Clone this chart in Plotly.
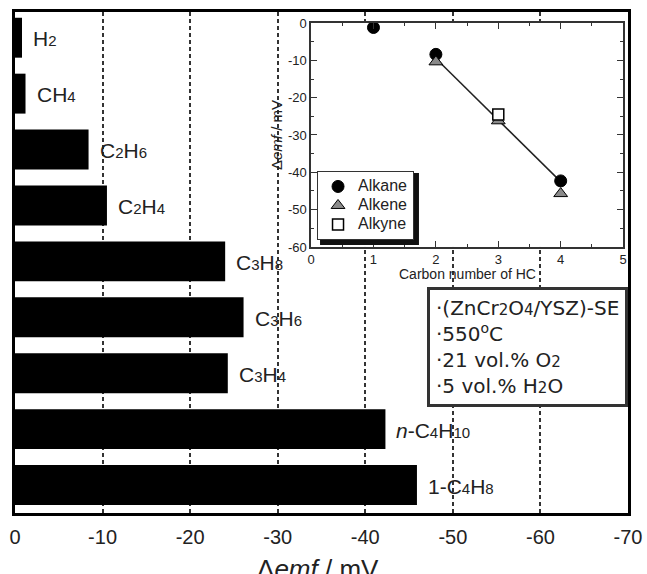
import plotly.graph_objects as go

FONT = "Liberation Sans, Arial, sans-serif"
WIDE = "DejaVu Sans, sans-serif"


def s(t, px):
    return f'<span style="font-size:{px}px">{t}</span>'


# ---- main bar data ----
SUB = 15
gases = ["H" + s("2", SUB), "CH" + s("4", SUB), "C" + s("2", SUB) + "H" + s("6", SUB),
         "C" + s("2", SUB) + "H" + s("4", SUB), "C" + s("3", SUB) + "H" + s("8", SUB),
         "C" + s("3", SUB) + "H" + s("6", SUB), "C" + s("3", SUB) + "H" + s("4", SUB),
         "<i>n</i>-C" + s("4", SUB) + "H" + s("10", SUB), "1-C" + s("4", SUB) + "H" + s("8", SUB)]
demf = [-0.8, -1.2, -8.4, -10.5, -24.0, -26.1, -24.3, -42.3, -45.9]
positions = list(range(len(gases)))

x_tickvals = [0, -10, -20, -30, -40, -50, -60, -70]
x_ticktext = ["0", "-10", "-20", "-30", "-40", "-50", "-60", "-70"]

# ---- inset data ----
alkane_n = [1, 2, 4]
alkane_v = [-1.2, -8.4, -42.3]
alkene_n = [2, 3, 4]
alkene_v = [-10.4, -26.2, -45.7]
alkyne_n = [3]
alkyne_v = [-24.5]
fit_n = [2, 4]
fit_v = [-9.5, -42.5]

y2_tickvals = [0, -10, -20, -30, -40, -50, -60]
y2_ticktext = ["0", "-10", "-20", "-30", "-40", "-50", "-60"]
x2_tickvals = [0, 1, 2, 3, 4, 5]

fig = go.Figure()

fig.add_trace(go.Bar(
    x=demf, y=positions, orientation="h",
    marker=dict(color="black", line=dict(color="black", width=0)),
    width=0.714, showlegend=False, hoverinfo="x",
    xaxis="x", yaxis="y",
))

LEG = 16
fig.add_trace(go.Scatter(x=fit_n, y=fit_v, mode="lines",
                         line=dict(color="#222", width=1.5),
                         showlegend=False, xaxis="x2", yaxis="y2"))
fig.add_trace(go.Scatter(x=alkane_n, y=alkane_v, mode="markers", name=s("Alkane", LEG),
                         marker=dict(symbol="circle", size=12, color="black",
                                     line=dict(color="black", width=1)),
                         xaxis="x2", yaxis="y2"))
fig.add_trace(go.Scatter(x=alkene_n, y=alkene_v, mode="markers", name=s("Alkene", LEG),
                         marker=dict(symbol="triangle-up", size=12, color="#8a8a8a",
                                     line=dict(color="black", width=1)),
                         xaxis="x2", yaxis="y2"))
fig.add_trace(go.Scatter(x=alkyne_n, y=alkyne_v, mode="markers", name=s("Alkyne", LEG),
                         marker=dict(symbol="square", size=11, color="white",
                                     line=dict(color="black", width=1.5)),
                         xaxis="x2", yaxis="y2"))

annotations = []
for g, v, p in zip(gases, demf, positions):
    annotations.append(dict(
        x=v, y=p, xref="x", yref="y", text=g, showarrow=False,
        xanchor="left", yanchor="middle", xshift=9, yshift=-1,
        font=dict(family=FONT, size=21, color="#222"),
    ))

BS = 15
annotations.append(dict(
    x=1.0, y=0.451, xref="paper", yref="paper", xanchor="right", yanchor="top",
    text=("·(ZnCr" + s("2", BS) + "O" + s("4", BS) + "/YSZ)-SE<br>·550<sup>o</sup>C<br>"
          "·21 vol.% O" + s("2", BS) + "<br>·5 vol.% H" + s("2", BS) + "O"),
    align="left", showarrow=False, bgcolor="white", bordercolor="#333", borderwidth=3,
    borderpad=6, font=dict(family=WIDE, size=20, color="#222"),
))

# inset x-axis title
annotations.append(dict(
    x=(0.483 + 0.992) / 2, y=0.531, xref="paper", yref="paper",
    xanchor="center", yanchor="top", yshift=-17,
    text="Carbon number of HC", showarrow=False,
    font=dict(family=FONT, size=14, color="#222"),
))

# main x-axis title (partly below the bottom edge, as in the original)
annotations.append(dict(
    x=0.494, y=-0.078, xref="paper", yref="paper",
    xanchor="center", yanchor="top",
    text="Δ<i>emf</i> / mV", showarrow=False,
    font=dict(family=FONT, size=26, color="#222"),
))

fig.update_layout(
    width=647, height=574,
    margin=dict(l=15, r=19, t=12, b=61, autoexpand=False),
    paper_bgcolor="white", plot_bgcolor="white",
    font=dict(family=FONT, color="#222"),
    xaxis=dict(
        domain=[0, 1], range=[0, -70], tickmode="array", automargin=False,
        tickvals=x_tickvals, ticktext=x_ticktext,
        showline=True, linecolor="black", linewidth=3, mirror=True,
        ticks="", showgrid=True, gridcolor="#333", gridwidth=1.5,
        griddash="4px,3px", zeroline=False, ticklabelstandoff=4,
        tickfont=dict(family=FONT, size=20, color="#222"),
    ),
    yaxis=dict(
        domain=[0, 1], range=[8.5, -0.46], showticklabels=False, ticks="",
        showgrid=False, zeroline=False, automargin=False,
        showline=True, linecolor="black", linewidth=3, mirror=True,
    ),
    xaxis2=dict(
        domain=[0.483, 0.992], range=[0, 5], anchor="y2", automargin=False,
        tickmode="array", tickvals=x2_tickvals,
        ticks="inside", ticklen=6, tickwidth=1.2, tickcolor="#333",
        minor=dict(dtick=0.5, ticks="inside", ticklen=3, tickwidth=1, tickcolor="#333"),
        showline=True, linecolor="#333", linewidth=1.5, mirror="ticks",
        showgrid=False, zeroline=False,
        tickfont=dict(family=FONT, size=13, color="#222"),
    ),
    yaxis2=dict(
        domain=[0.531, 0.978], range=[-60, 0], anchor="x2", automargin=False,
        tickmode="array", tickvals=y2_tickvals, ticktext=y2_ticktext,
        ticks="inside", ticklen=6, tickwidth=1.2, tickcolor="#333",
        minor=dict(dtick=5, ticks="inside", ticklen=3, tickwidth=1, tickcolor="#333"),
        showline=True, linecolor="#333", linewidth=1.5, mirror="ticks",
        showgrid=False, zeroline=False,
        tickfont=dict(family=FONT, size=13, color="#222"),
        title=dict(text="Δ<i>emf</i> / mV", font=dict(family=FONT, size=15, color="#222"),
                   standoff=2),
    ),
    legend=dict(
        x=0.4927, y=0.545, xanchor="left", yanchor="bottom",
        bgcolor="white", bordercolor="#333", borderwidth=1,
        font=dict(family=FONT, size=11, color="#222"),
        itemwidth=30, tracegroupgap=0,
    ),
    shapes=[dict(type="rect", xref="paper", yref="paper", layer="above",
                 x0=0.4976, x1=0.6590, y0=0.5349, y1=0.6786,
                 fillcolor="#111", line=dict(width=0))],
    annotations=annotations,
)

fig.write_html("out.html")
